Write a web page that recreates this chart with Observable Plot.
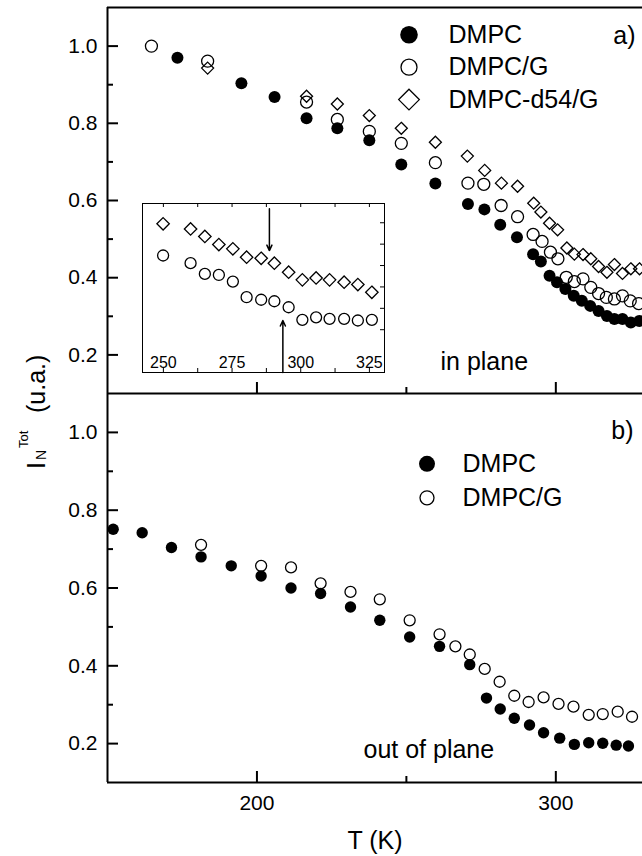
<!DOCTYPE html>
<html>
<head>
<meta charset="utf-8">
<script src="https://cdn.jsdelivr.net/npm/d3@7"></script>
<script src="https://cdn.jsdelivr.net/npm/@observablehq/plot@0.6"></script>
<style>
  body { margin: 0; background: white; }
  #chart { position: relative; width: 642px; height: 856px; overflow: hidden; background: white; }
</style>
</head>
<body>
<div id="chart"></div>
<script>
// ---------- data ----------
// panel a) in plane
const aT_DMPC = [173.4, 194.8, 205.9, 216.6, 226.9, 237.6, 248.3, 259.7, 270.6, 276.1, 281.4, 287.0, 292.4, 295.0, 297.9, 300.4, 303.2, 306.0, 308.7, 311.5, 314.3, 317.1, 319.6, 322.3, 325.1, 327.9];
const aV_DMPC = [0.970, 0.904, 0.868, 0.813, 0.787, 0.756, 0.693, 0.644, 0.591, 0.577, 0.537, 0.505, 0.461, 0.442, 0.405, 0.388, 0.371, 0.353, 0.340, 0.327, 0.314, 0.301, 0.293, 0.293, 0.284, 0.288];
const aT_DMPCG = [164.7, 183.5, 216.6, 226.9, 237.6, 248.3, 259.7, 270.6, 275.9, 281.7, 287.2, 292.4, 295.4, 298.2, 300.7, 303.5, 306.2, 309.1, 311.7, 314.3, 316.9, 319.6, 322.3, 324.9, 327.7];
const aV_DMPCG = [1.000, 0.961, 0.855, 0.810, 0.779, 0.748, 0.698, 0.645, 0.642, 0.587, 0.558, 0.512, 0.494, 0.466, 0.449, 0.401, 0.390, 0.397, 0.375, 0.359, 0.349, 0.345, 0.353, 0.340, 0.333];
const aT_D54G = [183.5, 216.6, 226.9, 237.6, 248.3, 259.7, 270.4, 276.2, 281.8, 287.2, 292.6, 295.0, 297.9, 300.6, 303.7, 306.2, 309.1, 311.7, 314.3, 317.1, 319.6, 322.3, 325.1, 328.0];
const aV_D54G = [0.943, 0.870, 0.850, 0.820, 0.787, 0.751, 0.715, 0.678, 0.645, 0.637, 0.593, 0.570, 0.541, 0.524, 0.477, 0.461, 0.460, 0.449, 0.429, 0.414, 0.434, 0.411, 0.423, 0.423];
// panel b) out of plane
const bT_DMPC = [151.9, 161.6, 171.4, 181.3, 191.4, 201.4, 211.4, 221.3, 231.3, 241.1, 251.1, 261.1, 271.2, 276.8, 281.4, 286.1, 291.2, 295.9, 301.3, 306.2, 311.0, 315.7, 320.2, 324.3];
const bV_DMPC = [0.751, 0.742, 0.704, 0.680, 0.657, 0.631, 0.600, 0.586, 0.551, 0.517, 0.474, 0.450, 0.403, 0.317, 0.289, 0.265, 0.248, 0.228, 0.214, 0.198, 0.202, 0.201, 0.196, 0.194];
const bT_DMPCG = [181.3, 201.4, 211.4, 221.3, 231.3, 241.1, 251.1, 261.1, 266.4, 271.2, 276.2, 281.2, 286.1, 290.9, 295.9, 300.9, 305.9, 311.0, 315.7, 320.7, 325.5];
const bV_DMPCG = [0.711, 0.657, 0.653, 0.612, 0.590, 0.571, 0.517, 0.481, 0.450, 0.429, 0.392, 0.359, 0.323, 0.307, 0.319, 0.302, 0.295, 0.274, 0.276, 0.282, 0.269];
// inset (arbitrary units)
const insetT = [249.9, 259.9, 265.1, 270.2, 275.3, 280.3, 285.6, 290.4, 295.6, 300.6, 305.6, 310.5, 315.8, 320.8, 325.9];
const insetDiamond = [6.95, 6.71, 6.36, 5.98, 5.78, 5.39, 5.34, 5.11, 4.69, 4.33, 4.42, 4.33, 4.22, 4.11, 3.75];
const insetCircle = [5.47, 5.11, 4.61, 4.56, 4.25, 3.52, 3.40, 3.33, 3.05, 2.46, 2.58, 2.51, 2.51, 2.43, 2.46];
const arrowT = [288.6, 293.5];
const arrowFrom = [7.66, 0.0];
const arrowTo = [5.70, 2.43];
// ticks & labels
const xDomain = [150, 329];
const yDomain = [0.1, 1.1];
const xMajor = [200, 300];
const xMinor = [250];
const yMajor = [0.2, 0.4, 0.6, 0.8, 1.0];
const yMinor = [0.3, 0.5, 0.7, 0.9];
const insetXLabels = [250, 275, 300, 325];
const insetXTicks = [250, 262.5, 275, 287.5, 300, 312.5, 325];
const insetYTicks = [2, 3, 4, 5, 6, 7];
const legendA = ["DMPC", "DMPC/G", "DMPC-d54/G"];
const legendB = ["DMPC", "DMPC/G"];

// ---------- helpers ----------
const rows = (T, V) => T.map((t, i) => ({T: t, v: V[i]}));
const FONT = "'Liberation Sans', Arial, Helvetica, sans-serif";
const W = 642, ML = 107, FW = W - ML;
const filled = {fill: "black", stroke: "none"};
const open = {fill: "none", stroke: "black", strokeWidth: 1.3};
const diam = {symbol: "diamond2", fill: "none", stroke: "black", strokeWidth: 1.3};
const legendStyles = [
  {...filled, r: 8.8},
  {...open, r: 8},
  {...diam, r: 9.3}
];
const txt = {text: d => d, lineAnchor: "middle", fontSize: 25};

function frameTicks(fh) {
  return [
    Plot.tickY(yMajor, {y: d => d, insetRight: FW - 11, strokeWidth: 2}),
    Plot.tickY(yMinor, {y: d => d, insetRight: FW - 6, strokeWidth: 2}),
    Plot.tickX(xMajor, {x: d => d, insetTop: fh - 11, strokeWidth: 2}),
    Plot.tickX(xMinor, {x: d => d, insetTop: fh - 6, strokeWidth: 2}),
    Plot.axisY(yMajor, {tickSize: 0, tickPadding: 10, fontSize: 21, tickFormat: d3.format(".1f"), label: null})
  ];
}

// ---------- panel a ----------
const hA = 393, mtA = 7, fhA = hA - mtA;
const panelA = Plot.plot({
  width: W, height: hA, marginTop: mtA, marginBottom: 0, marginLeft: ML, marginRight: 0,
  style: {fontFamily: FONT, overflow: "visible", background: "none", display: "block"},
  x: {domain: xDomain, axis: null},
  y: {domain: yDomain, axis: null},
  marks: [
    Plot.ruleY([1.1, 0.1], {strokeWidth: 2}),
    Plot.ruleX([150], {strokeWidth: 2}),
    ...frameTicks(fhA),
    Plot.dot(rows(aT_D54G, aV_D54G), {x: "T", y: "v", r: 5.4, ...diam}),
    Plot.dot(rows(aT_DMPCG, aV_DMPCG), {x: "T", y: "v", r: 6, ...open}),
    Plot.dot(rows(aT_DMPC, aV_DMPC), {x: "T", y: "v", r: 6, ...filled}),
    ...legendA.flatMap((s, i) => [
      Plot.dot([s], {frameAnchor: "top-left", dx: 301.5, dy: 27.3 + i * 32.4, ...legendStyles[i]}),
      Plot.text([s], {...txt, frameAnchor: "top-left", dx: 341, dy: 27.3 + i * 32.4, textAnchor: "start"})
    ]),
    Plot.text(["a)"], {...txt, frameAnchor: "top-right", dx: -7, dy: 28, textAnchor: "end"}),
    Plot.text(["in plane"], {...txt, frameAnchor: "top-left", dx: 333, dy: 354, textAnchor: "start"})
  ]
});

// ---------- panel b ----------
const hB = 463, mbB = 74, fhB = hB - mbB;
const panelB = Plot.plot({
  width: W, height: hB, marginTop: 0, marginBottom: mbB, marginLeft: ML, marginRight: 0,
  style: {fontFamily: FONT, overflow: "visible", background: "none", display: "block"},
  x: {domain: xDomain, axis: null},
  y: {domain: yDomain, axis: null},
  marks: [
    Plot.ruleY([0.1], {strokeWidth: 2}),
    Plot.ruleX([150], {strokeWidth: 2}),
    ...frameTicks(fhB),
    Plot.axisX(xMajor, {tickSize: 0, tickPadding: 13, fontSize: 21, label: null}),
    Plot.text(["T (K)"], {...txt, frameAnchor: "bottom", dy: 58}),
    Plot.dot(rows(bT_DMPCG, bV_DMPCG), {x: "T", y: "v", r: 5.5, ...open}),
    Plot.dot(rows(bT_DMPC, bV_DMPC), {x: "T", y: "v", r: 5.7, ...filled}),
    ...legendB.flatMap((s, i) => [
      Plot.dot([s], {frameAnchor: "top-left", dx: 319.5, dy: 70.3 + i * 34, ...legendStyles[i], r: i === 0 ? 8 : 7}),
      Plot.text([s], {...txt, frameAnchor: "top-left", dx: 355, dy: 70.3 + i * 34, textAnchor: "start"})
    ]),
    Plot.text(["b)"], {...txt, frameAnchor: "top-right", dx: -9, dy: 37, textAnchor: "end"}),
    Plot.text(["out of plane"], {...txt, frameAnchor: "top-left", dx: 256, dy: 356, textAnchor: "start"})
  ]
});

// ---------- inset ----------
const iw = 242, ih = 169;
const inset = Plot.plot({
  width: iw, height: ih, margin: 0,
  style: {fontFamily: FONT, overflow: "visible", background: "white", position: "absolute", left: "142px", top: "203px"},
  x: {domain: [242.4, 330.5], axis: null},
  y: {domain: [0, 7.9], axis: null},
  marks: [
    Plot.frame({strokeWidth: 1}),
    Plot.tickX(insetXTicks, {x: d => d, insetBottom: ih - 4}),
    Plot.tickX(insetXTicks, {x: d => d, insetTop: ih - 4}),
    Plot.tickY(insetYTicks, {y: d => d, insetLeft: iw - 4}),
    Plot.text(insetXLabels, {x: d => d, text: d => String(d), frameAnchor: "bottom", lineAnchor: "middle", dy: -9.5, fontSize: 16}),
    Plot.dot(rows(insetT, insetDiamond), {x: "T", y: "v", r: 5.6, ...diam}),
    Plot.dot(rows(insetT, insetCircle), {x: "T", y: "v", r: 5.5, ...open}),
    Plot.arrow(arrowT.map((t, i) => ({T: t, y1: arrowFrom[i], y2: arrowTo[i]})),
      {x1: "T", x2: "T", y1: "y1", y2: "y2", strokeWidth: 1.5, headLength: 6, headAngle: 50})
  ]
});

const chart = document.getElementById("chart");
chart.appendChild(panelA);
chart.appendChild(panelB);
chart.appendChild(inset);

// ---------- y label spanning both panels ----------
const ns = "http://www.w3.org/2000/svg";
const lab = document.createElementNS(ns, "svg");
lab.setAttribute("width", 107);
lab.setAttribute("height", 856);
lab.setAttribute("style", "position:absolute;left:0;top:0;overflow:visible");
lab.innerHTML = `<text transform="translate(45,470) rotate(-90)" font-family="${FONT.replace(/'/g, "")}" font-size="25" fill="black">` +
  `<tspan x="1" y="0">I</tspan>` +
  `<tspan x="10" y="1" font-size="14">N</tspan>` +
  `<tspan x="22" y="-17" font-size="13">Tot</tspan>` +
  `<tspan x="57" y="0">(u.a.)</tspan></text>`;
chart.appendChild(lab);
</script>
</body>
</html>
